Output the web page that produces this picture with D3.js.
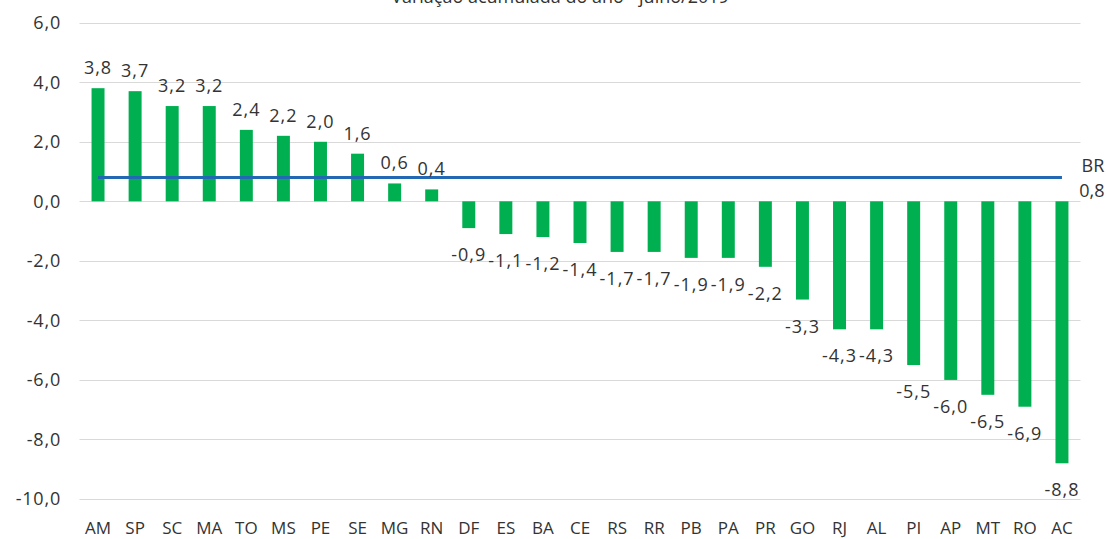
<!DOCTYPE html>
<html>
<head>
<meta charset="utf-8">
<script src="https://cdn.jsdelivr.net/npm/d3@7"></script>
<style>
  html, body { margin: 0; padding: 0; background: #fff; }
  svg { display: block; }
  text { font-family: "Open Sans", sans-serif; fill: #333333; }
</style>
</head>
<body>
<svg id="chart" width="1107" height="539"></svg>
<script>
const categories = ["AM","SP","SC","MA","TO","MS","PE","SE","MG","RN","DF","ES","BA","CE","RS","RR","PB","PA","PR","GO","RJ","AL","PI","AP","MT","RO","AC"];
const values = [3.8,3.7,3.2,3.2,2.4,2.2,2.0,1.6,0.6,0.4,-0.9,-1.1,-1.2,-1.4,-1.7,-1.7,-1.9,-1.9,-2.2,-3.3,-4.3,-4.3,-5.5,-6.0,-6.5,-6.9,-8.8];
const brLabel = "BR";
const brValue = 0.8;
const yTicks = [-10,-8,-6,-4,-2,0,2,4,6];
const title = "Variação acumulada do ano - julho/2019";

const fmt = v => d3.format(".1f")(v).replace(".", ",").replace("−", "-");

const svg = d3.select("#chart");
const plotLeft = 79.5, plotRight = 1080.5, plotTop = 22.7, plotBottom = 499;

const x = d3.scaleBand().domain(categories).range([plotLeft, plotRight]).paddingInner(0.65).paddingOuter(0.325);
const y = d3.scaleLinear().domain([-10, 6]).range([plotBottom, plotTop]);

// title (clipped at top, as in the reference)
svg.append("text").attr("x", 560).attr("y", 3).attr("text-anchor", "middle")
  .style("font-size", "18px").text(title);

// gridlines
svg.append("g").selectAll("line").data(yTicks).join("line")
  .attr("x1", plotLeft).attr("x2", plotRight)
  .attr("y1", d => Math.round(y(d)) + 0.5).attr("y2", d => Math.round(y(d)) + 0.5)
  .attr("stroke", "#d9d9d9").attr("stroke-width", 1);

// y axis labels
svg.append("g").selectAll("text").data(yTicks).join("text")
  .attr("x", 61).attr("y", d => y(d)).attr("dy", "0.36em")
  .attr("text-anchor", "end").style("font-size", "18px").style("letter-spacing", "0.8px")
  .text(d => fmt(d));

// bars
svg.append("g").selectAll("rect").data(values).join("rect")
  .attr("x", (d, i) => x(categories[i]))
  .attr("width", x.bandwidth())
  .attr("y", d => Math.min(y(d), y(0)))
  .attr("height", d => Math.abs(y(d) - y(0)))
  .attr("fill", "#00b050");

// BR line
const lineGen = d3.line().x(d => x(d) + x.bandwidth() / 2).y(() => y(brValue));
svg.append("path").datum(categories).attr("d", lineGen)
  .attr("fill", "none").attr("stroke", "#2268b2").attr("stroke-width", 3);

// data labels
svg.append("g").selectAll("text").data(values).join("text")
  .attr("x", (d, i) => x(categories[i]) + x.bandwidth() / 2)
  .attr("y", d => d >= 0 ? y(d) - 14 : y(d) + 33)
  .attr("text-anchor", "middle").style("font-size", "18px").style("letter-spacing", "1px")
  .text(d => fmt(d));

// BR label
const lastX = x(categories[categories.length - 1]) + x.bandwidth() / 2;
svg.append("text").attr("x", lastX + 31).attr("y", 172).attr("text-anchor", "middle")
  .style("font-size", "18px").text(brLabel);
svg.append("text").attr("x", lastX + 30).attr("y", 197).attr("text-anchor", "middle")
  .style("font-size", "18px").text(fmt(brValue));

// x axis labels
svg.append("g").selectAll("text").data(categories).join("text")
  .attr("x", d => x(d) + x.bandwidth() / 2)
  .attr("y", 534).attr("text-anchor", "middle").style("font-size", "17px")
  .text(d => d);
</script>
</body>
</html>
